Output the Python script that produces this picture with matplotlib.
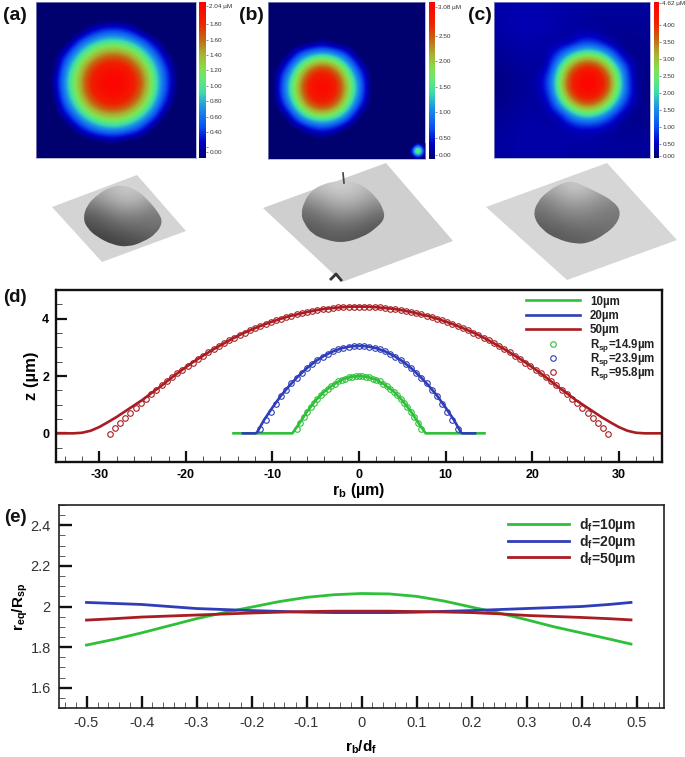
import numpy as np
import matplotlib
matplotlib.use("Agg")
import matplotlib.pyplot as plt
from matplotlib.colors import LinearSegmentedColormap
from matplotlib.patches import Polygon, PathPatch
from matplotlib.path import Path
from matplotlib.ticker import MultipleLocator

plt.rcParams['font.family'] = ['Liberation Sans', 'DejaVu Sans']
plt.rcParams['mathtext.fontset'] = 'custom'
plt.rcParams['mathtext.rm'] = 'Liberation Sans:bold'
plt.rcParams['mathtext.it'] = 'Liberation Sans:bold'
plt.rcParams['mathtext.bf'] = 'Liberation Sans:bold'

W, H = 685, 757

height_a = [
    [0, 0, 0, 0, 0, 0, 0, 0, 0, 0, 0, 0, 0],
    [0, 0, 0, 0, 0, 0, 0, 0, 0, 0, 0, 0, 0],
    [0, 0, 0, 0, .24, .45, .50, .37, .08, 0, 0, 0, 0],
    [0, 0, 0, .49, .88, 1.09, 1.13, 1.01, .71, .25, .02, 0, 0],
    [0, 0, .41, .96, 1.35, 1.62, 1.66, 1.55, 1.18, .72, .15, 0, 0],
    [0, 0, .71, 1.26, 1.75, 1.97, 2.00, 1.90, 1.55, 1.01, .42, 0, 0],
    [0, .11, .84, 1.39, 1.90, 2.03, 2.05, 2.00, 1.72, 1.14, .50, .02, 0],
    [0, .06, .79, 1.35, 1.86, 2.02, 2.04, 1.98, 1.66, 1.10, .46, 0, 0],
    [0, 0, .58, 1.13, 1.60, 1.85, 1.90, 1.75, 1.40, .89, .25, 0, 0],
    [0, 0, .20, .75, 1.13, 1.35, 1.39, 1.27, .97, .50, 0, 0, 0],
    [0, 0, 0, .20, .58, .79, .84, .71, .41, 0, 0, 0, 0],
    [0, 0, 0, 0, 0, .07, .11, 0, 0, 0, 0, 0, 0],
    [0, 0, 0, 0, 0, 0, 0, 0, 0, 0, 0, 0, 0],
]
height_b = [
    [0, 0, 0, 0, 0, 0, 0, 0, 0, 0, 0, 0, 0],
    [0, 0, 0, 0, 0, 0, 0, 0, 0, 0, 0, 0, 0],
    [0, 0, 0, 0, 0, 0, 0, 0, 0, 0, 0, 0, 0],
    [0, 0, 0, 0, .22, 0, 0, 0, 0, 0, 0, 0, 0],
    [0, 0, .71, 1.37, 1.59, 1.37, .71, 0, 0, 0, 0, 0, 0],
    [0, .54, 1.64, 2.45, 2.75, 2.45, 1.64, .54, 0, 0, 0, 0, 0],
    [0, 1.02, 2.12, 2.95, 3.08, 2.95, 2.12, 1.02, 0, 0, 0, 0, 0],
    [0, 1.06, 2.16, 2.98, 3.08, 2.98, 2.16, 1.06, 0, 0, 0, 0, 0],
    [0, .67, 1.77, 2.60, 2.85, 2.60, 1.77, .67, 0, 0, 0, 0, 0],
    [0, 0, .93, 1.59, 1.81, 1.59, .93, 0, 0, 0, 0, 0, 0],
    [0, 0, 0, .32, .54, .32, 0, 0, 0, 0, 0, 0, 0],
    [0, 0, 0, 0, 0, 0, 0, 0, 0, 0, 0, 0, 0],
    [0, 0, 0, 0, 0, 0, 0, 0, 0, 0, 0, 0, 0],
]
spot_b = [
    [0, .1, .5, .1, 0],
    [.1, 1.1, 1.5, 1.1, .1],
    [.4, 1.5, 1.8, 1.5, .4],
    [.1, 1.1, 1.5, 1.1, .1],
    [0, .1, .4, .1, 0],
]
height_c = [
    [.40, .42, .42, .42, .42, .40, .38, .35, .35, .35, .35, .35, .35],
    [.40, .45, .45, .45, .45, .42, .38, .35, .32, .32, .32, .32, .32],
    [.38, .42, .45, .45, .42, .38, .35, .35, .32, .30, .28, .28, .30],
    [.35, .38, .40, .40, .38, .35, .41, .98, .86, .35, .25, .25, .28],
    [.30, .35, .38, .38, .35, 1.06, 2.30, 2.86, 2.75, 1.95, .49, .25, .25],
    [.25, .30, .35, .35, .35, 2.25, 3.70, 4.30, 4.20, 3.30, 1.68, .35, .22],
    [.22, .28, .32, .35, .83, 2.76, 4.25, 4.62, 4.60, 3.95, 2.19, .35, .22],
    [.22, .28, .32, .35, .66, 2.59, 4.10, 4.60, 4.50, 3.75, 2.02, .50, .22],
    [.25, .30, .35, .35, .35, 1.74, 3.10, 3.80, 3.65, 2.75, 1.17, .35, .22],
    [.30, .35, .38, .38, .35, .35, 1.45, 2.01, 1.90, 1.10, .35, .25, .25],
    [.32, .38, .40, .40, .38, .38, .40, .50, .45, .35, .30, .28, .28],
    [.35, .38, .40, .40, .40, .40, .38, .38, .35, .35, .32, .32, .32],
    [.38, .38, .40, .40, .40, .40, .38, .38, .38, .35, .35, .35, .35],
]

ticks_a = [2.04, 1.8, 1.6, 1.4, 1.2, 1.0, 0.8, 0.6, 0.4, 0.2, 0.14]
labels_a = ['2.04 µM', '1.80', '1.60', '1.40', '1.20', '1.00', '0.80', '0.60', '0.40', '', '0.00']
ticks_b = [3.08, 2.5, 2.0, 1.5, 1.0, 0.5, 0.15]
labels_b = ['3.08 µM', '2.50', '2.00', '1.50', '1.00', '0.50', '0.00']
ticks_c = [4.62, 4.0, 3.5, 3.0, 2.5, 2.0, 1.5, 1.0, 0.5, 0.15]
labels_c = ['4.62 µM', '4.00', '3.50', '3.00', '2.50', '2.00', '1.50', '1.00', '0.50', '0.00']

# panel d, half profiles, mirrored about r=0
line10_r = [0, 1, 2, 3, 4, 5, 6, 7, 7.7, 14.5]
line10_z = [2.0, 1.97, 1.87, 1.69, 1.46, 1.15, .76, .30, 0, 0]
line20_r = [0, 1, 2, 3, 4, 5, 6, 7, 8, 9, 10, 11, 11.8, 12, 13.4]
line20_z = [3.05, 3.03, 2.97, 2.86, 2.71, 2.52, 2.28, 2.0, 1.68, 1.32, .9, .45, .02, 0, 0]
line50_r = [0, 1, 2, 3, 4, 5, 6, 7, 8, 9, 10, 11, 12, 13, 14, 15, 16, 17, 18, 19, 20, 21, 22,
            23, 24, 25, 26, 27, 28, 29, 30, 31, 32, 33, 35]
line50_z = [4.42, 4.415, 4.40, 4.37, 4.34, 4.29, 4.23, 4.16, 4.09, 4.0, 3.90, 3.79, 3.67, 3.54,
            3.40, 3.24, 3.07, 2.90, 2.71, 2.52, 2.31, 2.09, 1.86, 1.62, 1.40, 1.17, .97, .77,
            .57, .39, .22, .09, .02, 0, 0]

sp10_r = [0, .4, .8, 1.2, 1.6, 2.0, 2.4, 2.8, 3.2, 3.6, 4.0, 4.4, 4.8, 5.2, 5.6, 6.0, 6.4, 6.8, 7.2]
sp10_z = [2.0, 1.99, 1.98, 1.95, 1.91, 1.87, 1.81, 1.73, 1.65, 1.56, 1.45, 1.34, 1.21, 1.06, .91,
          .74, .56, .36, .15]
sp20_r = [0, .6, 1.2, 1.8, 2.4, 3.0, 3.6, 4.2, 4.8, 5.4, 6.0, 6.6, 7.2, 7.8, 8.4, 9.0, 9.6, 10.2,
          10.8, 11.4]
sp20_z = [3.05, 3.04, 3.02, 2.98, 2.93, 2.86, 2.78, 2.68, 2.56, 2.43, 2.28, 2.12, 1.94, 1.74, 1.52,
          1.29, 1.04, .76, .47, .16]
sp50_r = [0, .6, 1.2, 1.8, 2.4, 3.0, 3.6, 4.2, 4.8, 5.4, 6.0, 6.6, 7.2, 7.8, 8.4, 9.0, 9.6, 10.2,
          10.8, 11.4, 12, 12.6, 13.2, 13.8, 14.4, 15, 15.6, 16.2, 16.8, 17.4, 18, 18.6, 19.2, 19.8,
          20.4, 21, 21.6, 22.2, 22.8, 23.4, 24, 24.6, 25.2, 25.8, 26.4, 27, 27.6, 28.2, 28.8]
sp50_z = [4.42, 4.42, 4.41, 4.40, 4.39, 4.37, 4.35, 4.33, 4.30, 4.27, 4.23, 4.19, 4.15, 4.10, 4.05,
          3.996, 3.94, 3.875, 3.81, 3.74, 3.67, 3.59, 3.51, 3.42, 3.33, 3.24, 3.14, 3.04, 2.93,
          2.82, 2.71, 2.59, 2.47, 2.35, 2.22, 2.09, 1.95, 1.81, 1.67, 1.52, 1.37, 1.21, 1.05, .88,
          .71, .54, .36, .18, -.01]

legend_d = ['10µm', '20µm', '50µm', 'R$_{\\mathregular{sp}}$=14.9µm', 'R$_{\\mathregular{sp}}$=23.9µm',
            'R$_{\\mathregular{sp}}$=95.8µm']
legend_e = ['d$_{\\mathregular{f}}$=10µm', 'd$_{\\mathregular{f}}$=20µm', 'd$_{\\mathregular{f}}$=50µm']

# panel e
ratio_x = [-.5, -.45, -.4, -.35, -.3, -.25, -.2, -.15, -.1, -.05, 0, .05, .1, .15, .2, .25, .3, .35, .4, .45, .49]
ratio_10 = [1.81, 1.838, 1.87, 1.905, 1.94, 1.97, 1.997, 2.024, 2.045, 2.058, 2.064, 2.062, 2.05, 2.027,
            1.997, 1.968, 1.935, 1.90, 1.87, 1.84, 1.815]
ratio_20 = [2.02, 2.015, 2.01, 2.0, 1.99, 1.985, 1.98, 1.976, 1.972, 1.97, 1.97, 1.97, 1.972, 1.976,
            1.98, 1.985, 1.99, 1.995, 2.0, 2.01, 2.02]
ratio_50 = [1.933, 1.94, 1.948, 1.953, 1.958, 1.963, 1.968, 1.972, 1.975, 1.977, 1.977, 1.977, 1.975, 1.973,
            1.97, 1.964, 1.956, 1.951, 1.946, 1.94, 1.934]

GREEN, BLUE, RED = '#2fc03a', '#2f3db8', '#a81c22'

# AFM surface views, outlines in image pixels
sheet_a = [(52, 207), (137, 175), (186, 231), (102, 262)]
dome_a = [(83, 218), (87, 205), (97, 195), (110, 187), (123, 185), (137, 190), (149, 201), (158, 212),
          (163, 222), (156, 234), (143, 242), (128, 247), (113, 245), (97, 237), (87, 228)]
shade_a = [[165, 180, 200, 195, 175], [125, 150, 175, 170, 140], [90, 110, 130, 125, 120],
           [75, 85, 100, 105, 110], [60, 65, 70, 80, 90]]
sheet_b = [(263, 208), (386, 163), (453, 241), (342, 282)]
dome_b = [(301, 214), (304, 202), (311, 191), (323, 184), (337, 181), (350, 181), (364, 186), (376, 197),
          (383, 208), (385, 219), (375, 229), (363, 237), (343, 243), (326, 240), (312, 234), (304, 223)]
shade_b = [[185, 200, 210, 195, 175], [145, 170, 185, 175, 150], [110, 135, 150, 140, 115],
           [95, 105, 115, 105, 90], [85, 90, 90, 85, 80]]
sheet_c = [(486, 207), (607, 163), (677, 240), (567, 280)]
dome_c = [(533, 216), (537, 202), (548, 191), (562, 183), (573, 181), (584, 186), (599, 193), (613, 201),
          (621, 211), (617, 224), (604, 235), (589, 243), (575, 244), (557, 239), (542, 230)]
shade_c = [[165, 185, 205, 180, 160], [130, 155, 170, 155, 135], [110, 130, 140, 130, 120],
           [95, 105, 115, 115, 115], [85, 90, 95, 100, 105]]

afm = LinearSegmentedColormap.from_list('afm', [
    (0.0, '#00006e'), (0.10, '#0000c8'), (0.20, '#0a50f0'), (0.33, '#1e96e6'), (0.42, '#3cdcaa'),
    (0.50, '#60e878'), (0.57, '#84e050'), (0.67, '#a8b030'), (0.77, '#c86010'), (0.87, '#f02000'),
    (1.0, '#ff0000')])


def px_axes(left, top, right, bottom):
    return fig.add_axes([left / W, 1 - bottom / H, (right - left) / W, (bottom - top) / H])


def both(r, z):
    r = np.asarray(r, dtype=float)
    z = np.asarray(z, dtype=float)
    return np.concatenate([-r[:0:-1], r]), np.concatenate([z[:0:-1], z])


def smooth_outline(points):
    # closed quadratic spline through the midpoints of the outline
    pts = np.asarray(points, dtype=float)
    mids = (pts + np.roll(pts, -1, axis=0)) / 2
    verts = [mids[-1]]
    codes = [Path.MOVETO]
    for p, m in zip(pts, mids):
        verts += [p, m]
        codes += [Path.CURVE3, Path.CURVE3]
    return Path(verts, codes)


fig = plt.figure(figsize=(W / 100, H / 100), dpi=100)

# heat maps
maps = [
    (height_a, (36, 2, 196, 158), (199, 206), 0.06, 2.09, ticks_a, labels_a),
    (height_b, (268, 2, 425, 159), (429, 435), 0.08, 3.17, ticks_b, labels_b),
    (height_c, (494, 2, 650, 158), (654, 659), 0.10, 4.66, ticks_c, labels_c),
]
for grid, box, bar, vmin, vmax, ticks, labels in maps:
    ax = px_axes(*box)
    im = ax.imshow(grid, cmap=afm, vmin=vmin, vmax=vmax, interpolation='bicubic', aspect='auto')
    if grid is height_b:
        ax.imshow(spot_b, cmap=afm, vmin=vmin, vmax=vmax, interpolation='bicubic', aspect='auto',
                  extent=(11.25, 12.5, 12.5, 11.2))
        ax.set_xlim(-0.5, 12.5)
        ax.set_ylim(12.5, -0.5)
    ax.set_xticks([])
    ax.set_yticks([])
    for s in ax.spines.values():
        s.set_color('#9aa0c0')
        s.set_linewidth(0.5)
    cax = px_axes(bar[0], box[1], bar[1], box[3])
    cb = fig.colorbar(im, cax=cax)
    cb.set_ticks(ticks, labels=labels)
    cb.ax.minorticks_off()
    cb.ax.tick_params(length=1.5, width=0.4, pad=1, labelsize=4.6, colors='#333333')
    cb.outline.set_visible(False)

# surface views
over = fig.add_axes([0, 0, 1, 1], zorder=-1)
views = [(sheet_a, dome_a, shade_a, '#d4d4d4'), (sheet_b, dome_b, shade_b, '#cfcfcf'),
         (sheet_c, dome_c, shade_c, '#d6d6d6')]
for sheet, dome, shade, tone in views:
    over.add_patch(Polygon(sheet, closed=True, fc=tone, ec='none'))
    patch = PathPatch(smooth_outline(dome), fc='none', ec='none')
    over.add_patch(patch)
    xs = [p[0] for p in dome]
    ys = [p[1] for p in dome]
    im = over.imshow(shade, cmap='gray', vmin=0, vmax=255, interpolation='bicubic', aspect='auto',
                     extent=(min(xs), max(xs), max(ys), min(ys)), zorder=2)
    im.set_clip_path(patch)
over.set_xlim(0, W)
over.set_ylim(H, 0)
over.axis('off')
# spike and defect on the sample of panel b
over.plot([343, 344], [173, 183], color='#444444', lw=1.2)
over.plot([331, 336, 341], [279, 274, 280], color='#333333', lw=2)

# panel d
ax = px_axes(56, 290, 662, 462)
ax.plot(*both(line10_r, line10_z), color=GREEN, lw=1.9)
ax.plot(*both(line20_r, line20_z), color=BLUE, lw=1.9)
ax.plot(*both(line50_r, line50_z), color=RED, lw=1.9)
for r, z, c in [(sp10_r, sp10_z, GREEN), (sp20_r, sp20_z, BLUE), (sp50_r, sp50_z, RED)]:
    ax.plot(*both(r, z), ls='none', marker='o', ms=4, mfc='none', mec=c, mew=0.8)
ax.set_xlim(-35, 35)
ax.set_ylim(-1, 5)
ax.set_xticks([-30, -20, -10, 0, 10, 20, 30])
ax.set_xticklabels(['-30', '-20', '-10', '0', '10', '20', '30'], fontweight='bold', fontsize=9)
ax.set_yticks([0, 2, 4])
ax.set_yticklabels(['0', '2', '4'], fontweight='bold', fontsize=9)
ax.xaxis.set_minor_locator(MultipleLocator(2))
ax.yaxis.set_minor_locator(MultipleLocator(0.5))
ax.tick_params(which='major', direction='in', length=8, width=1.6, color='#111111', pad=5)
ax.tick_params(which='minor', direction='in', length=4, width=0.6, color='#333333')
for s in ax.spines.values():
    s.set_linewidth(1.7)
    s.set_color('#111111')
ax.set_xlabel('r$_{\\mathregular{b}}$ (µm)', fontweight='bold', fontsize=11.5, labelpad=0)
ax.set_ylabel('z (µm)', fontweight='bold', fontsize=12, labelpad=2)

# panel e
ax = px_axes(59, 505, 664, 708)
ax.plot(ratio_x, ratio_10, color=GREEN, lw=2)
ax.plot(ratio_x, ratio_20, color=BLUE, lw=2)
ax.plot(ratio_x, ratio_50, color=RED, lw=2)
ax.set_xlim(-0.55, 0.55)
ax.set_ylim(1.5, 2.5)
ax.set_xticks([-.5, -.4, -.3, -.2, -.1, 0, .1, .2, .3, .4, .5])
ax.set_xticklabels(['-0.5', '-0.4', '-0.3', '-0.2', '-0.1', '0', '0.1', '0.2', '0.3', '0.4', '0.5'],
                   fontsize=10.5, color='#333333')
ax.set_yticks([1.6, 1.8, 2.0, 2.2, 2.4])
ax.set_yticklabels(['1.6', '1.8', '2', '2.2', '2.4'], fontsize=10.5, color='#333333')
ax.xaxis.set_minor_locator(MultipleLocator(0.02))
ax.yaxis.set_minor_locator(MultipleLocator(0.05))
ax.tick_params(which='major', direction='in', length=9, width=1.7, color='#111111', pad=6)
ax.tick_params(which='minor', direction='in', length=4.5, width=0.6, color='#444444')
for s in ax.spines.values():
    s.set_linewidth(1.2)
    s.set_color('#222222')
ax.set_xlabel('r$_{\\mathregular{b}}$/d$_{\\mathregular{f}}$', fontweight='bold', fontsize=11, labelpad=6)
ax.set_ylabel('r$_{\\mathregular{eq}}$/R$_{\\mathregular{sp}}$', fontweight='bold', fontsize=11, labelpad=0)

# legends and panel letters sit on a clear layer in image pixels
top = fig.add_axes([0, 0, 1, 1], zorder=5)
top.patch.set_visible(False)
top.set_xlim(0, W)
top.set_ylim(H, 0)
top.axis('off')

rows_d = [300, 314.5, 329, 343.5, 358, 372]
for i, (lab, c) in enumerate(zip(legend_d, [GREEN, BLUE, RED, GREEN, BLUE, RED])):
    y = rows_d[i]
    if i < 3:
        top.plot([526, 580], [y, y], color=c, lw=1.9)
    else:
        top.plot([553], [y], ls='none', marker='o', ms=4, mfc='none', mec=c, mew=0.8)
    top.text(590, y - (1.5 if i > 2 else 0), lab, fontsize=8.3, fontweight='bold', color='#222222',
             va='center_baseline')

rows_e = [524, 540.5, 557]
for y, lab, c in zip(rows_e, legend_e, [GREEN, BLUE, RED]):
    top.plot([508, 569], [y, y], color=c, lw=2)
    top.text(579, y - 1, lab, fontsize=10, fontweight='bold', color='#222222', va='center_baseline')

for lab, x, y, size in [('(a)', 3, 15, 14), ('(b)', 239, 15, 14), ('(c)', 468, 16, 14),
                        ('(d)', 3, 297, 13.5), ('(e)', 4, 517, 13.5)]:
    top.text(x, y, lab, fontsize=size, fontweight='bold', color='#111111', va='center', ha='left')

fig.savefig('out.png', dpi=100)
